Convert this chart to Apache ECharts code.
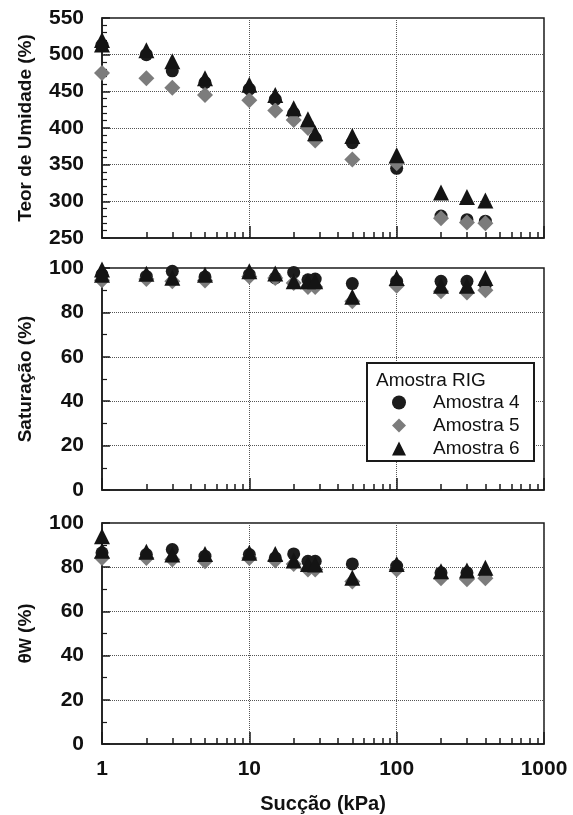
<!DOCTYPE html>
<html>
<head>
<meta charset="utf-8">
<script src="https://cdn.jsdelivr.net/npm/echarts@6/dist/echarts.min.js"></script>
<style>
html,body{margin:0;padding:0;background:#fff;}
#chart{width:573px;height:815px;}
</style>
</head>
<body>
<div id="chart"></div>
<script>
// ---- data ----
const suction = [1, 2, 3, 5, 10, 15, 20, 25, 28, 50, 100, 200, 300, 400];
const suction6 = [1, 1, 2, 3, 5, 10, 15, 20, 25, 28, 50, 100, 200, 300, 400];

const teorA4 = [513, 500, 478, 462, 453, 439, 420, 403, 386, 380, 345, 280, 275, 273];
const teorA5 = [475, 468, 455, 445, 438, 424, 411, 400, 383, 357, 352, 277, 271, 270];
const teorA6 = [520, 514, 506, 491, 468, 459, 445, 427, 412, 393, 389, 363, 312, 306, 301];

const satA4 = [97, 96.2, 98.5, 96, 97, 95.5, 98, 94.7, 95, 93, 94, 94, 94, 92.5];
const satA5 = [94.5, 95, 94, 94.4, 96.2, 95.5, 93.2, 91.4, 91.4, 85, 92, 89.5, 89, 90];
const satA6 = [99.3, 97, 97.4, 95.6, 97, 98.5, 97.5, 94, 94, 94, 87, 95.5, 92, 92, 95.5];

const thetaA4 = [86.5, 85.7, 88, 85, 85.7, 84.2, 86, 82.7, 82.7, 81.5, 80.5, 77.5, 77.5, 76.5];
const thetaA5 = [84.2, 84.2, 83.5, 82.7, 84.2, 83, 81.5, 79, 79, 73.5, 79, 75, 74.5, 75];
const thetaA6 = [94, 87.5, 87, 85.7, 86, 86.5, 86, 83, 81.5, 81.2, 75.2, 81.5, 78.2, 78.5, 79.7];

const seriesNames = ['Amostra 4', 'Amostra 5', 'Amostra 6'];
const legendTitle = 'Amostra RIG';
const yTitles = ['Teor de Umidade (%)', 'Saturação (%)', '{t|θ}{s|W}{t| (%)}'];
const xTitle = 'Sucção (kPa)';
const minorX = [2,3,4,5,6,7,8,9,20,30,40,50,60,70,80,90,200,300,400,500,600,700,800,900];

// ---- build ----
const FONT = '"Liberation Sans", Arial, Helvetica, sans-serif';
const panels = [
  {a4: teorA4, a5: teorA5, a6: teorA6, min: 250, max: 550, interval: 50, minorSplit: 5},
  {a4: satA4, a5: satA5, a6: satA6, min: 0, max: 100, interval: 20, minorSplit: 2},
  {a4: thetaA4, a5: thetaA5, a6: thetaA6, min: 0, max: 100, interval: 20, minorSplit: 2}
];
const gridTops = [18, 268, 523];
const gridHeights = [220, 222, 222];

const grid = gridTops.map((t, i) => ({
  left: 102, right: 29, top: t, height: gridHeights[i],
  show: true, borderColor: '#1a1a1a', borderWidth: 1.5, backgroundColor: 'transparent'
}));

const splitLineStyle = {show: true, lineStyle: {type: 'dotted', color: '#555', width: 1}};

const xAxis = [];
for (let i = 0; i < 3; i++) {
  const last = i === 2;
  xAxis.push({
    type: 'log', logBase: 10, min: 1, max: 1000, gridIndex: i,
    axisLine: {show: true, lineStyle: {color: '#1a1a1a', width: 1.5}},
    axisTick: {show: true, inside: true, length: 12, lineStyle: {color: '#1a1a1a', width: 1.5}},
    axisLabel: {show: last, margin: 15, fontFamily: FONT, fontWeight: 'bold', fontSize: 21, color: '#111',
      formatter: v => String(Math.round(v))},
    splitLine: splitLineStyle,
    name: last ? xTitle : '', nameLocation: 'middle', nameGap: 50,
    nameTextStyle: {fontFamily: FONT, fontWeight: 'bold', fontSize: 20, color: '#111'}
  });
}
for (let i = 0; i < 3; i++) {
  xAxis.push({
    type: 'value', min: 0, max: 3, gridIndex: i, position: 'bottom',
    axisLine: {show: false},
    axisTick: {show: true, inside: true, length: 6, customValues: minorX.map(v => Math.log10(v)),
      lineStyle: {color: '#1a1a1a', width: 1.5}},
    axisLabel: {show: false},
    splitLine: {show: false}
  });
}

const richT = {fontFamily: FONT, fontWeight: 'bold', fontSize: 19, color: '#111'};
const yAxis = panels.map((p, i) => ({
  type: 'value', gridIndex: i, min: p.min, max: p.max, interval: p.interval,
  axisLine: {show: true, lineStyle: {color: '#1a1a1a', width: 1.5}},
  axisTick: {show: true, inside: true, length: 8, lineStyle: {color: '#1a1a1a', width: 1.5}},
  minorTick: {show: true, splitNumber: p.minorSplit, length: 5, lineStyle: {color: '#1a1a1a', width: 1.2}},
  axisLabel: {margin: 18, fontFamily: FONT, fontWeight: 'bold', fontSize: 21, color: '#111'},
  splitLine: splitLineStyle,
  name: yTitles[i], nameLocation: 'middle', nameRotate: 90, nameGap: 67,
  nameTextStyle: {fontFamily: FONT, fontWeight: 'bold', fontSize: 19, color: '#111',
    rich: {t: richT,
           s: {fontFamily: FONT, fontWeight: 'bold', fontSize: 16, color: '#111', verticalAlign: 'bottom'}}}
}));

const styles = [
  {symbol: 'circle', size: 13, color: '#1c1c1c'},
  {symbol: 'diamond', size: 16, color: '#7c7c7c'},
  {symbol: 'triangle', size: 16, color: '#141414'}
];

const series = [];
panels.forEach((p, i) => {
  const vals = [p.a4, p.a5, p.a6];
  vals.forEach((v, s) => {
    const xs = s === 2 ? suction6 : suction;
    series.push({
      type: 'scatter', name: seriesNames[s], xAxisIndex: i, yAxisIndex: i,
      symbol: styles[s].symbol, symbolSize: styles[s].size,
      itemStyle: {color: styles[s].color, opacity: 1},
      data: xs.map((x, k) => [x, v[k]]),
      z: 2 + s
    });
  });
});

const chart = echarts.init(document.getElementById('chart'), null, {renderer: 'canvas'});
chart.setOption({
  animation: false,
  backgroundColor: '#fff',
  grid, xAxis, yAxis, series,
  legend: {
    data: seriesNames.map(n => ({name: n})),
    orient: 'vertical', left: 392, top: 393, padding: 0, itemGap: 4,
    itemWidth: 14, itemHeight: 14, selectedMode: false, z: 10,
    textStyle: {fontFamily: FONT, fontSize: 19, color: '#111', padding: [0, 0, 0, 22]}
  },
  graphic: [
    {type: 'rect', z: 8, shape: {x: 367, y: 363, width: 167, height: 98},
     style: {fill: '#fff', stroke: '#1a1a1a', lineWidth: 2}},
    {type: 'text', z: 9, x: 376, y: 381,
     style: {text: legendTitle, font: '19px ' + FONT, fill: '#111', textVerticalAlign: 'middle'}}
  ]
});
</script>
</body>
</html>
